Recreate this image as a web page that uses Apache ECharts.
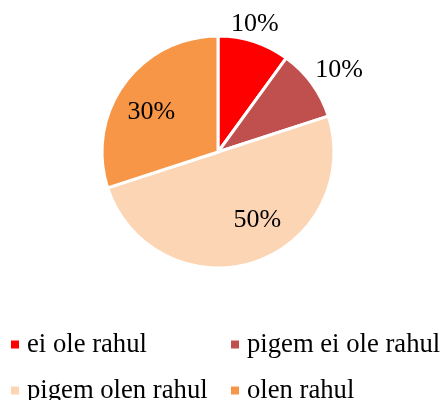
<!DOCTYPE html>
<html>
<head>
<meta charset="utf-8">
<script src="https://cdn.jsdelivr.net/npm/echarts@6/dist/echarts.min.js"></script>
<style>html,body{margin:0;padding:0;background:#fff}#c{width:442px;height:400px}</style>
</head>
<body>
<div id="c"></div>
<script>
const categories = ['ei ole rahul', 'pigem ei ole rahul', 'pigem olen rahul', 'olen rahul'];
const values = [10, 10, 50, 30];
const colors = ['#FF0000', '#C0504D', '#FCD5B5', '#F79646'];
// label placement: radius ratio and angle shift (degrees) per slice
const labelRatio = [1.15, 1.26, 0.68, 0.67];
const labelShift = [-2, 2, -12, -5];

const CX = 218, CY = 152, R = 116;
const total = values.reduce((a, b) => a + b, 0);
const midAngles = [];
let acc = 0;
values.forEach(v => { midAngles.push((acc + v / 2) / total * 360); acc += v; });

const chart = echarts.init(document.getElementById('c'), null, { renderer: 'canvas' });
const font = '"Liberation Serif", "Times New Roman", serif';
const legendBase = {
  orient: 'horizontal', width: 40, top: 331, itemGap: 19, padding: 0,
  icon: 'rect', itemWidth: 10, itemHeight: 10,
  textStyle: { fontFamily: font, fontSize: 26.67, color: '#000', padding: [0, 0, 0, 2] }
};
chart.setOption({
  animation: false,
  backgroundColor: '#fff',
  legend: [
    Object.assign({}, legendBase, { data: [categories[0], categories[2]], left: 9 }),
    Object.assign({}, legendBase, { data: [categories[1], categories[3]], left: 229 })
  ],
  series: [{
    type: 'pie',
    center: [CX, CY],
    radius: R,
    startAngle: 90,
    clockwise: true,
    color: colors,
    itemStyle: { borderColor: '#fff', borderWidth: 3 },
    label: {
      show: true, position: 'inside',
      formatter: p => p.value + '%',
      fontFamily: font, fontSize: 26, color: '#000'
    },
    labelLine: { show: false },
    labelLayout: function (p) {
      const i = p.dataIndex;
      const a = (midAngles[i] + labelShift[i]) * Math.PI / 180;
      const r = R * labelRatio[i];
      return { x: CX + r * Math.sin(a), y: CY - r * Math.cos(a), align: 'center', verticalAlign: 'middle' };
    },
    data: categories.map((c, i) => ({ name: c, value: values[i] }))
  }]
});
</script>
</body>
</html>
